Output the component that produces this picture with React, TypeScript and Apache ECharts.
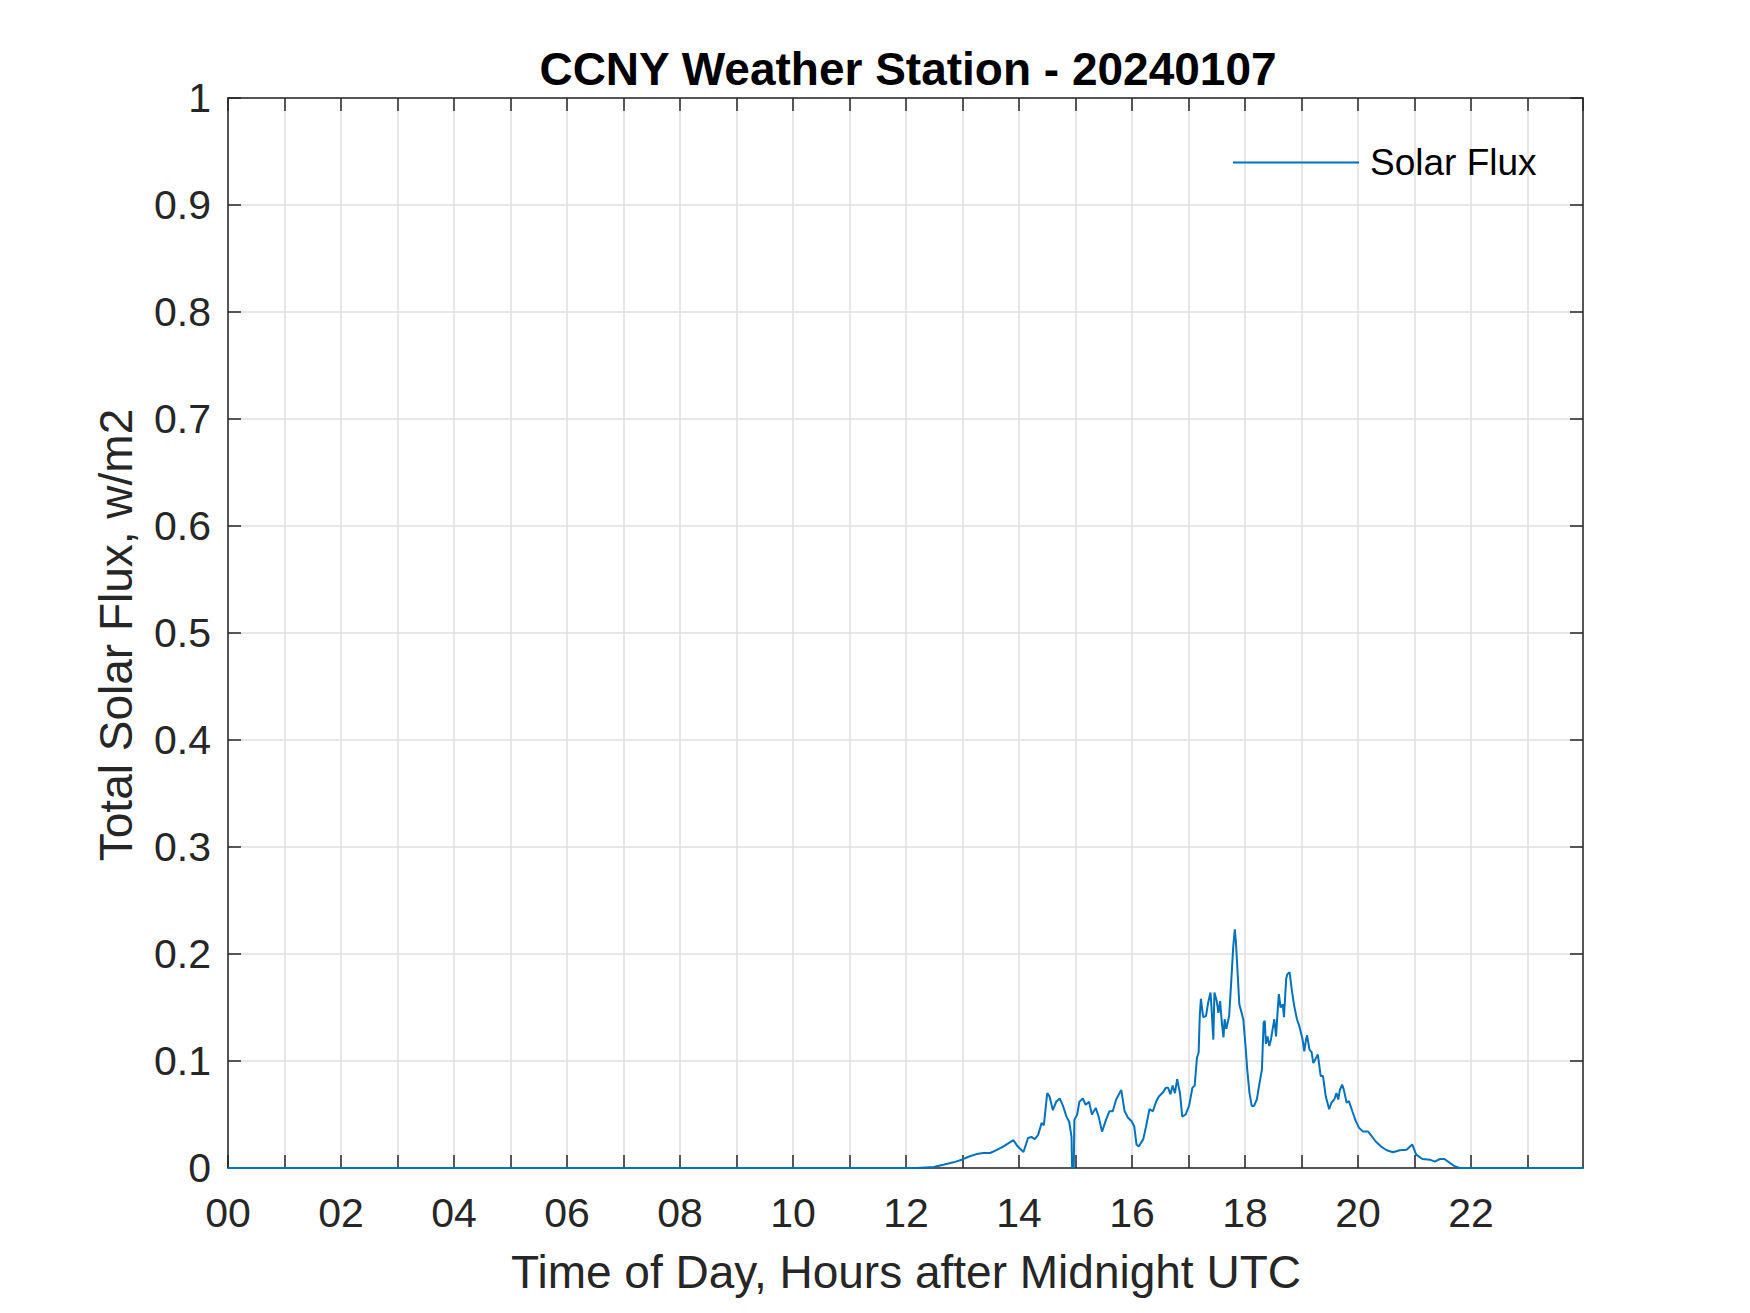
import React, { useEffect, useRef } from "react";
import * as echarts from "echarts";

const TITLE = "CCNY Weather Station - 20240107";
const X_NAME = "Time of Day, Hours after Midnight UTC";
const Y_NAME = "Total Solar Flux, w/m2";
const SERIES_NAME = "Solar Flux";

// hours after midnight UTC
const hours = [
  0, 12.19, 12.49, 12.66, 12.84, 13.0, 13.13, 13.25, 13.37, 13.49, 13.6, 13.72, 13.81, 13.9,
  13.98, 14.08, 14.16, 14.22, 14.28, 14.34, 14.4, 14.44, 14.5, 14.54, 14.6, 14.66, 14.72,
  14.78, 14.84, 14.89, 14.93, 14.94, 14.97, 14.98, 15.03, 15.07, 15.13, 15.18, 15.24, 15.29,
  15.36, 15.41, 15.47, 15.54, 15.6, 15.66, 15.72, 15.81, 15.87, 15.93, 15.99, 16.04, 16.08,
  16.12, 16.2, 16.25, 16.31, 16.37, 16.43, 16.48, 16.54, 16.6, 16.64, 16.68, 16.72, 16.76,
  16.8, 16.85, 16.89, 16.95, 17.01, 17.07, 17.11, 17.15, 17.18, 17.2, 17.22, 17.26, 17.31,
  17.35, 17.39, 17.41, 17.44, 17.46, 17.5, 17.53, 17.56, 17.59, 17.62, 17.64, 17.67, 17.72,
  17.76, 17.79, 17.82, 17.84, 17.86, 17.9, 17.94, 17.97, 18.01, 18.04, 18.08, 18.12, 18.16,
  18.21, 18.25, 18.3, 18.33, 18.35, 18.37, 18.4, 18.43, 18.46, 18.49, 18.52, 18.55, 18.58,
  18.6, 18.63, 18.67, 18.69, 18.73, 18.75, 18.79, 18.83, 18.87, 18.92, 18.96, 19.02, 19.05,
  19.08, 19.1, 19.14, 19.18, 19.21, 19.25, 19.29, 19.34, 19.38, 19.43, 19.49, 19.53, 19.58,
  19.62, 19.65, 19.68, 19.72, 19.75, 19.8, 19.84, 19.9, 19.96, 20.02, 20.09, 20.18, 20.24,
  20.31, 20.41, 20.51, 20.62, 20.74, 20.86, 20.96, 21.03, 21.14, 21.27, 21.36, 21.45, 21.53,
  21.62, 21.71, 21.8, 23.983,
];

// total solar flux, w/m2
const flux = [
  0, 0, 0.001, 0.003, 0.0053, 0.008, 0.011, 0.013, 0.014, 0.014, 0.0167, 0.02, 0.023, 0.026,
  0.02, 0.015, 0.028, 0.029, 0.027, 0.031, 0.042, 0.04, 0.07, 0.067, 0.054, 0.062, 0.065,
  0.058, 0.048, 0.043, 0.029, 0, 0, 0.045, 0.05, 0.062, 0.065, 0.059, 0.062, 0.05,
  0.056, 0.048, 0.034, 0.045, 0.053, 0.053, 0.064, 0.073, 0.053, 0.047, 0.044, 0.039, 0.022,
  0.02, 0.027, 0.039, 0.055, 0.053, 0.0625, 0.067, 0.07, 0.075, 0.075, 0.069, 0.077, 0.07,
  0.083, 0.07, 0.048, 0.05, 0.058, 0.075, 0.077, 0.103, 0.108, 0.142, 0.158, 0.141, 0.142,
  0.155, 0.164, 0.148, 0.12, 0.164, 0.156, 0.145, 0.156, 0.136, 0.122, 0.139, 0.13, 0.142,
  0.177, 0.205, 0.223, 0.211, 0.192, 0.153, 0.145, 0.139, 0.114, 0.092, 0.07, 0.058, 0.058,
  0.064, 0.077, 0.092, 0.136, 0.1375, 0.116, 0.123, 0.114, 0.12, 0.13, 0.139, 0.123, 0.148,
  0.1625, 0.15, 0.153, 0.141, 0.177, 0.181, 0.183, 0.166, 0.152, 0.139, 0.133, 0.12, 0.109,
  0.12, 0.124, 0.111, 0.108, 0.098, 0.102, 0.106, 0.086, 0.086, 0.067, 0.055, 0.061, 0.064,
  0.07, 0.064, 0.073, 0.078, 0.073, 0.061, 0.0625, 0.053, 0.044, 0.0375, 0.034, 0.034, 0.03,
  0.025, 0.02, 0.0166, 0.0147, 0.0166, 0.017, 0.022, 0.0125, 0.0084, 0.0078, 0.006, 0.0084, 0.0084,
  0.005, 0.0016, 0, 0,
];

const X_MIN = 0;
const X_MAX = 23.983;
const Y_MIN = 0;
const Y_MAX = 1;

const FONT = '"Liberation Sans", Arial, Helvetica, sans-serif';
const AXIS_COLOR = "#262626";
const GRID_COLOR = "#dfdfdf";
const LINE_COLOR = "#0072BD";

export default function App() {
  const ref = useRef<HTMLDivElement>(null);

  useEffect(() => {
    if (!ref.current) return;
    const chart = echarts.init(ref.current, undefined, { renderer: "svg" });
    const data = hours.map((h, i) => [h, flux[i]]);

    const mkLine = () => ({ show: true, onZero: false, lineStyle: { color: AXIS_COLOR, width: 1.5 } });
    const mkTick = () => ({ show: true, inside: true, length: 13, lineStyle: { color: AXIS_COLOR, width: 1.5 } });

    chart.setOption({
      animation: false,
      backgroundColor: "#ffffff",
      textStyle: { fontFamily: FONT },
      grid: { left: 228, top: 98, width: 1355, height: 1070, containLabel: false },
      legend: {
        show: true,
        left: 1228,
        top: 139,
        itemWidth: 126,
        itemHeight: 14,
        icon: "path://M0,0 L126,0 L126,2 L0,2 Z",
        data: [SERIES_NAME],
        textStyle: { fontSize: 37, color: "#000000", fontFamily: FONT, padding: [0, 0, 0, 6] },
      },
      graphic: [
        {
          type: "text",
          x: 908,
          y: 69,
          style: {
            text: TITLE,
            fontSize: 46,
            fontWeight: "bold",
            fontFamily: FONT,
            fill: "#000000",
            align: "center",
            verticalAlign: "middle",
          },
        },
        {
          type: "text",
          x: 906,
          y: 1272,
          style: {
            text: X_NAME,
            fontSize: 46,
            fontFamily: FONT,
            fill: AXIS_COLOR,
            align: "center",
            verticalAlign: "middle",
          },
        },
        {
          type: "text",
          x: 116,
          y: 635,
          rotation: Math.PI / 2,
          style: {
            text: Y_NAME,
            fontSize: 46,
            fontFamily: FONT,
            fill: AXIS_COLOR,
            align: "center",
            verticalAlign: "middle",
          },
        },
      ],
      xAxis: [
        {
          type: "value",
          position: "bottom",
          min: X_MIN,
          max: X_MAX,
          interval: 1,
          axisLine: mkLine(),
          axisTick: mkTick(),
          axisLabel: {
            show: true,
            margin: 24,
            fontSize: 41,
            color: AXIS_COLOR,
            fontFamily: FONT,
            showMaxLabel: false,
            formatter: (v: number) =>
              Math.abs(v - Math.round(v)) < 1e-6 && Math.round(v) % 2 === 0
                ? String(Math.round(v)).padStart(2, "0")
                : "",
          },
          splitLine: { show: true, lineStyle: { color: GRID_COLOR, width: 1.5 } },
        },
        {
          type: "value",
          position: "top",
          min: X_MIN,
          max: X_MAX,
          interval: 1,
          axisLine: mkLine(),
          axisTick: mkTick(),
          axisLabel: { show: false },
          splitLine: { show: false },
        },
      ],
      yAxis: [
        {
          type: "value",
          position: "left",
          min: Y_MIN,
          max: Y_MAX,
          interval: 0.1,
          axisLine: mkLine(),
          axisTick: mkTick(),
          axisLabel: {
            show: true,
            margin: 17,
            fontSize: 41,
            color: AXIS_COLOR,
            fontFamily: FONT,
          },
          splitLine: { show: true, lineStyle: { color: GRID_COLOR, width: 1.5 } },
        },
        {
          type: "value",
          position: "right",
          min: Y_MIN,
          max: Y_MAX,
          interval: 0.1,
          axisLine: mkLine(),
          axisTick: mkTick(),
          axisLabel: { show: false },
          splitLine: { show: false },
        },
      ],
      series: [
        {
          name: SERIES_NAME,
          type: "line",
          xAxisIndex: 0,
          yAxisIndex: 0,
          data,
          showSymbol: false,
          symbol: "none",
          smooth: false,
          lineStyle: { color: LINE_COLOR, width: 2 },
          itemStyle: { color: LINE_COLOR },
          z: 5,
        },
      ],
    });

    return () => chart.dispose();
  }, []);

  return (
    <div
      ref={ref}
      style={{ position: "absolute", left: 0, top: 0, width: 1750, height: 1313, background: "#fff" }}
    />
  );
}
